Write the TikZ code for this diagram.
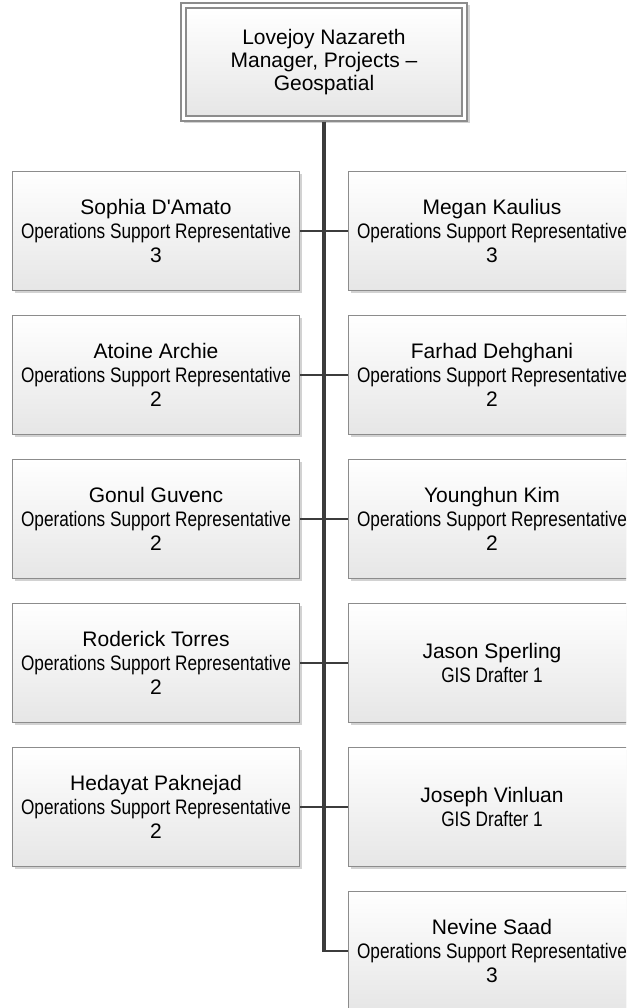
\documentclass[tikz,border=0pt]{standalone}
\usepackage{fontspec}
\setmainfont{Liberation Sans}
\newfontfamily\namefont{Liberation Sans}
\newfontfamily\narrowfont[FakeStretch=0.82]{Liberation Sans}
\usetikzlibrary{shadows}

\definecolor{boxline}{HTML}{8C8C8C}
\definecolor{boxlow}{HTML}{E6E6E6}
\definecolor{wire}{HTML}{3C3C3C}
\definecolor{shade}{HTML}{D2D2D2}

\tikzset{
  boxshadow/.style={drop shadow={shadow xshift=2.5pt, shadow yshift=-2.5pt, fill=shade, opacity=1}},
  person/.style={draw=boxline, line width=1.4pt, top color=white, bottom color=boxlow,
    minimum width=287pt, minimum height=119pt, inner sep=0pt, align=center,
    font=\namefont\fontsize{21}{24}\selectfont, boxshadow},
  topframe/.style={draw=boxline, line width=1.4pt, fill=white,
    minimum width=286pt, minimum height=118pt, inner sep=0pt, boxshadow},
  topbox/.style={draw=boxline, line width=1.2pt, top color=white, bottom color=boxlow,
    minimum width=276pt, minimum height=108pt, inner sep=0pt, align=center,
    font=\namefont\fontsize{21}{23}\selectfont},
  trunk/.style={draw=wire, line width=4pt},
  branch/.style={draw=wire, line width=2.5pt},
}

\begin{document}
\begin{tikzpicture}[x=1pt, y=-1pt]
  \useasboundingbox (0,0) rectangle (626,1008);
  \clip (0,0) rectangle (626,1008);

  % manager
  \node[topframe] (frame) at (324,62) {};
  \node[topbox] (top) at (324,62) {Lovejoy Nazareth\\Manager, Projects –\\Geospatial};

  % left column
  \node[person] (l1) at (156,231) {Sophia D'Amato\\\narrowfont Operations Support Representative\\3};
  \node[person] (l2) at (156,375) {Atoine Archie\\\narrowfont Operations Support Representative\\2};
  \node[person] (l3) at (156,519) {Gonul Guvenc\\\narrowfont Operations Support Representative\\2};
  \node[person] (l4) at (156,663) {Roderick Torres\\\narrowfont Operations Support Representative\\2};
  \node[person] (l5) at (156,807) {Hedayat Paknejad\\\narrowfont Operations Support Representative\\2};

  % right column
  \node[person] (r1) at (492,231) {Megan Kaulius\\\narrowfont Operations Support Representative\\3};
  \node[person] (r2) at (492,375) {Farhad Dehghani\\\narrowfont Operations Support Representative\\2};
  \node[person] (r3) at (492,519) {Younghun Kim\\\narrowfont Operations Support Representative\\2};
  \node[person] (r4) at (492,663) {Jason Sperling\\\narrowfont GIS Drafter 1};
  \node[person] (r5) at (492,807) {Joseph Vinluan\\\narrowfont GIS Drafter 1};
  \node[person] (r6) at (492,951) {Nevine Saad\\\narrowfont Operations Support Representative\\3};

  % connectors
  \coordinate (bend) at (frame.south |- r6.west);
  \draw[branch] (l1.east) -- (r1.west);
  \draw[branch] (l2.east) -- (r2.west);
  \draw[branch] (l3.east) -- (r3.west);
  \draw[branch] (l4.east) -- (r4.west);
  \draw[branch] (l5.east) -- (r5.west);
  \draw[branch] ([xshift=-1pt]bend) -- (r6.west);
  \draw[trunk] (frame.south) -- ([yshift=-1.25pt]bend);
\end{tikzpicture}
\end{document}
